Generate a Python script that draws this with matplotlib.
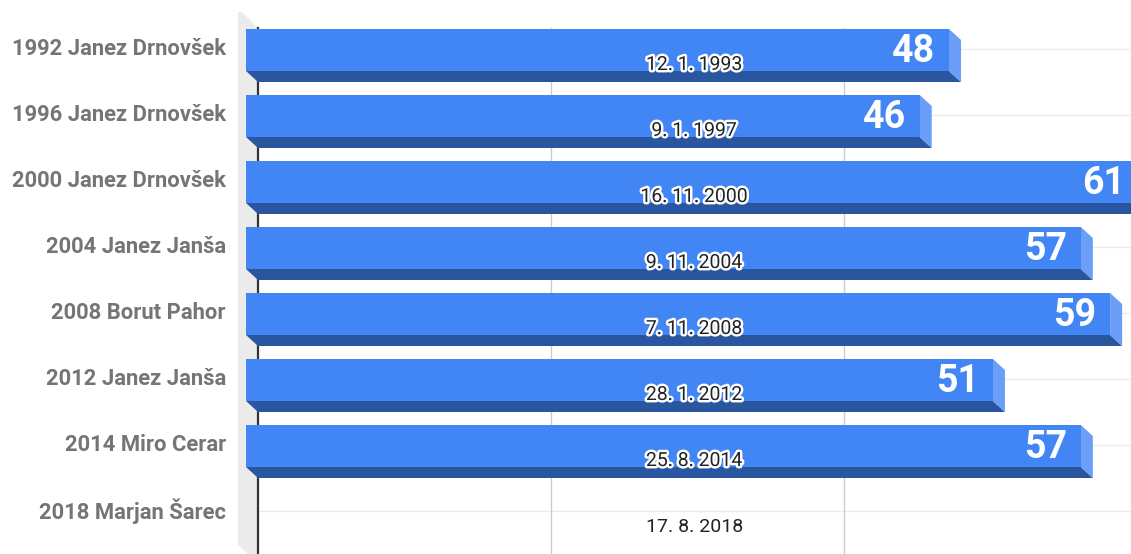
import matplotlib
matplotlib.use("Agg")
import matplotlib.pyplot as plt
from matplotlib.patches import Polygon
import matplotlib.patheffects as pe

categories = ["1992 Janez Drnovšek", "1996 Janez Drnovšek", "2000 Janez Drnovšek",
              "2004 Janez Janša", "2008 Borut Pahor", "2012 Janez Janša",
              "2014 Miro Cerar", "2018 Marjan Šarec"]
values = [48, 46, 61, 57, 59, 51, 57, None]
dates = ["12. 1. 1993", "9. 1. 1997", "16. 11. 2000", "9. 11. 2004",
         "7. 11. 2008", "28. 1. 2012", "25. 8. 2014", "17. 8. 2018"]
xticks = [0, 20, 40, 60]

W, H = 1131, 554
fig = plt.figure(figsize=(W / 100, H / 100), dpi=100)
ax = fig.add_axes([0, 0, 1, 1])

k = 14.646          # px per unit
x0px = 258          # pixel of value 0 (back plane)
ypx0, ystep = 49, 66
ax.set_xlim(-x0px / k, (W - x0px) / k)
ax.set_ylim((H - ypx0) / ystep, -ypx0 / ystep)
ax.axis("off")

dx = -12 / k        # front-face offset
dy = -11 / ystep
front_col = "#4285F4"
bottom_col = "#2A56A0"
side_col = "#6A9EF7"

# back wall (left)
wx = -20 / k
ybot = (H - ypx0) / ystep
ax.add_patch(Polygon([(wx, -37 / ystep), (wx + 4 / k, -37 / ystep), (0, -21 / ystep),
                      (0, ybot), (wx + 10 / k, ybot),
                      (wx, (545 - ypx0) / ystep)],
                     closed=True, facecolor="#EBEBEB", edgecolor="none", zorder=0))

# gridlines
for i in range(len(categories)):
    ax.plot([wx, (W - x0px) / k], [i, i], color="#EBEBEB", lw=1.0, zorder=1)
for t in xticks[1:]:
    ax.plot([t, t], [-21 / ystep, ybot], color="#CCCCCC", lw=1.0, zorder=1)
ax.plot([0, 0], [-21 / ystep, ybot], color="#333333", lw=1.6, zorder=1)

# bars
bh = 42 / ystep
for i, v in enumerate(values):
    if v is None:
        continue
    btop = i - 9 / ystep           # back face top
    bbot = btop + bh
    ftop, fbot = btop + dy, bbot + dy
    # bottom face
    ax.add_patch(Polygon([(dx, fbot), (v + dx, fbot), (v, bbot), (0, bbot)],
                         closed=True, facecolor=bottom_col, edgecolor="none", zorder=3))
    # right side face
    ax.add_patch(Polygon([(v + dx, ftop), (v, btop), (v, bbot), (v + dx, fbot)],
                         closed=True, facecolor=side_col, edgecolor="none", zorder=3))
    # front face
    ax.barh(i + dy - 9 / ystep + bh / 2, v, height=bh, left=dx, color=front_col,
            zorder=4, linewidth=0)
    ax.text(v + dx - 14 / k, i + dy - 9 / ystep + bh / 2 + 0.03, str(v), ha="right",
            va="center", color="white", fontsize=27, fontweight="bold",
            family="Roboto", zorder=6)

# labels
xc = ((W - x0px) / k) / 2
for i, (c, d) in enumerate(zip(categories, dates)):
    ax.text(-32 / k, i, c, ha="right", va="center", color="#757575",
            fontsize=15.8, fontweight="bold", family="Roboto", zorder=6)
    t = ax.text(xc, i + 16 / ystep, d, ha="center", va="center", color="#222222",
                fontsize=14, family="Roboto", zorder=7)
    if values[i] is not None:
        t.set_path_effects([pe.withStroke(linewidth=3.5, foreground="white")])

fig.savefig("out.png", dpi=100)
